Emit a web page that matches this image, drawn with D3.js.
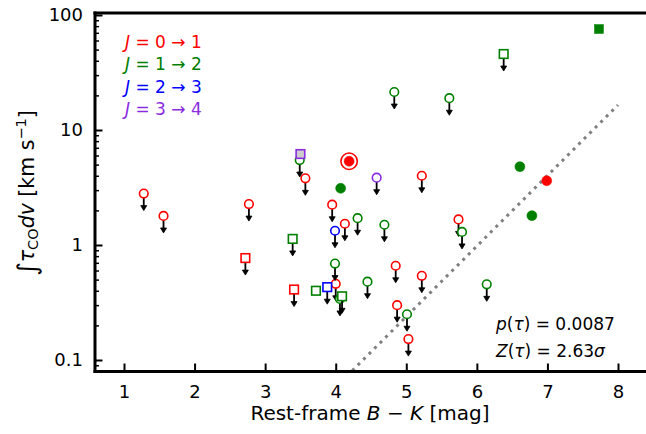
<!DOCTYPE html>
<html><head><meta charset="utf-8">
<script src="https://cdn.jsdelivr.net/npm/d3@7/dist/d3.min.js"></script>
<style>
body{margin:0;background:#fff}
svg{display:block}
text{font-family:"DejaVu Sans",sans-serif}
</style>
</head><body>
<svg id="c" width="646" height="434"></svg>
<script>
// ---------- data (Rest-frame B-K [mag], integrated tau_CO dv [km/s]) ----------
const redCircLimX = [1.28, 1.56, 2.77, 3.57, 3.95, 4.13, 4.00, 5.22, 5.74, 4.85, 5.22, 4.87, 5.03];
const redCircLimY = [2.80, 1.79, 2.27, 3.80, 2.24, 1.53, 0.46, 4.00, 1.67, 0.66, 0.54, 0.30, 0.152];
const redSqLimX = [2.72, 3.41];
const redSqLimY = [0.77, 0.41];
const redCircDetX = [6.99];
const redCircDetY = [3.62];
const redRingDetX = [4.19];
const redRingDetY = [5.35];

const greenCircLimX = [3.49, 4.31, 4.69, 3.99, 4.45, 4.06, 5.01, 5.79, 6.14, 4.83, 5.61];
const greenCircLimY = [5.48, 1.71, 1.50, 0.69, 0.48, 0.34, 0.25, 1.30, 0.455, 21.4, 18.9];
const greenSqLimX = [3.39, 4.09, 6.38];
const greenSqLimY = [1.13, 0.358, 45.8];
const greenSqOpenX = [3.72];
const greenSqOpenY = [0.40];
const greenCircDetX = [4.07, 6.61, 6.78];
const greenCircDetY = [3.11, 4.80, 1.80];
const greenSqDetX = [7.73];
const greenSqDetY = [75.5];

const blueCircLimX = [3.99];
const blueCircLimY = [1.33];
const blueSqLimX = [3.88];
const blueSqLimY = [0.43];

const purpleCircLimX = [4.58];
const purpleCircLimY = [3.85];
const purpleSqDetX = [3.50];
const purpleSqDetY = [6.18];

const fitLineX = [4.0, 8.0];
const fitLineY = [0.058, 16.5];

const xTicks = [1, 2, 3, 4, 5, 6, 7, 8];
const yTicks = [0.1, 1, 10, 100];
const yTickLabels = ["0.1", "1", "10", "100"];
const legendLabels = ["0 \u2192 1", "1 \u2192 2", "2 \u2192 3", "3 \u2192 4"];
const legendColors = ["#ff0000", "#008000", "#0000ff", "#8a2be2"];

// ---------- layout ----------
const svg = d3.select("#c");
const L = 95, R = 700, T = 13, B = 371.5;
const x = d3.scaleLinear().domain([1, 8]).range([124, 618]);
const y = d3.scaleLog().domain([0.1, 100]).range([360, 15]);

svg.append("defs").append("clipPath").attr("id", "clip")
  .append("rect").attr("x", L).attr("y", T).attr("width", R - L).attr("height", B - T);

const plot = svg.append("g").attr("clip-path", "url(#clip)");

// fit line
plot.append("path")
  .datum(fitLineX.map((d, i) => [d, fitLineY[i]]))
  .attr("d", d3.line().x(d => x(d[0])).y(d => y(d[1])))
  .attr("fill", "none").attr("stroke", "#808080").attr("stroke-width", 3)
  .attr("stroke-dasharray", "3,4.8");

const arrowFactor = Math.pow(10, 0.148);

function series(xs, ys, o) {
  const pts = xs.map((d, i) => [d, ys[i]]);
  const g = plot.append("g");
  if (o.limit) {
    pts.forEach(p => {
      const cx = x(p[0]), cy = y(p[1]), tip = y(p[1] / arrowFactor);
      g.append("line").attr("x1", cx).attr("x2", cx).attr("y1", cy).attr("y2", tip - 3)
        .attr("stroke", "#000").attr("stroke-width", 1.8);
      g.append("path").attr("d", `M${cx - 3},${tip - 5}L${cx + 3},${tip - 5}L${cx},${tip}Z`)
        .attr("fill", "#000").attr("stroke", "#000").attr("stroke-width", 0.8);
    });
  }
  pts.forEach(p => {
    const cx = x(p[0]), cy = y(p[1]);
    if (o.ring) {
      g.append("circle").attr("cx", cx).attr("cy", cy).attr("r", 8.2)
        .attr("fill", "#fff").attr("stroke", o.color).attr("stroke-width", 1.6);
    }
    if (o.shape === "circle") {
      g.append("circle").attr("cx", cx).attr("cy", cy).attr("r", o.filled ? 5 : 4.3)
        .attr("fill", o.filled ? o.color : (o.fill || "#fff"))
        .attr("stroke", o.color).attr("stroke-width", o.filled ? 0.5 : 1.6);
    } else {
      const s = o.filled ? 9 : 8.6;
      g.append("rect").attr("x", cx - s / 2).attr("y", cy - s / 2).attr("width", s).attr("height", s)
        .attr("fill", o.filled ? o.color : (o.fill || "#fff"))
        .attr("stroke", o.color).attr("stroke-width", o.filled ? 0.5 : 1.6);
    }
  });
}

const C = {red: "#ff0000", green: "#008000", blue: "#0000ff", purple: "#8a2be2"};
series(redCircLimX, redCircLimY, {color: C.red, shape: "circle", limit: true});
series(redSqLimX, redSqLimY, {color: C.red, shape: "square", limit: true});
series(greenCircLimX, greenCircLimY, {color: C.green, shape: "circle", limit: true});
series(greenSqLimX, greenSqLimY, {color: C.green, shape: "square", limit: true});
series(greenSqOpenX, greenSqOpenY, {color: C.green, shape: "square", limit: false});
series(blueCircLimX, blueCircLimY, {color: C.blue, shape: "circle", limit: true});
series(blueSqLimX, blueSqLimY, {color: C.blue, shape: "square", limit: true});
series(purpleCircLimX, purpleCircLimY, {color: C.purple, shape: "circle", limit: true});
series(purpleSqDetX, purpleSqDetY, {color: C.purple, shape: "square", fill: "#cccccc"});
series(greenCircDetX, greenCircDetY, {color: C.green, shape: "circle", filled: true});
series(greenSqDetX, greenSqDetY, {color: C.green, shape: "square", filled: true});
series(redCircDetX, redCircDetY, {color: C.red, shape: "circle", filled: true});
series(redRingDetX, redRingDetY, {color: C.red, shape: "circle", filled: true, ring: true});

// ---------- axes ----------
const xAxis = svg.append("g").attr("transform", `translate(0,${B})`)
  .call(d3.axisBottom(x).tickValues(xTicks).tickFormat(d3.format("d")).tickSize(-8).tickPadding(13.5));
const yMinor = [];
[0.01, 0.1, 1, 10].forEach(dec => { for (let k = 2; k <= 9; k++) yMinor.push(dec * k); });
const yMinorIn = yMinor.filter(v => y(v) <= B && y(v) >= T);
const yAxisMinor = svg.append("g").attr("transform", `translate(${L},0)`)
  .call(d3.axisLeft(y).tickValues(yMinorIn).tickFormat("").tickSize(-4));
const yAxis = svg.append("g").attr("transform", `translate(${L},0)`)
  .call(d3.axisLeft(y).tickValues(yTicks).tickFormat((d, i) => yTickLabels[i]).tickSize(-7.5).tickPadding(12));

[xAxis, yAxis, yAxisMinor].forEach(a => {
  a.select(".domain").remove();
  a.selectAll(".tick line").attr("stroke", "#000").attr("stroke-width", 2);
  a.selectAll("text").attr("font-size", 18).attr("fill", "#000")
    .attr("font-family", "DejaVu Sans, sans-serif");
});
yAxisMinor.selectAll(".tick line").attr("stroke-width", 1.5);

// spines
const sp = svg.append("g").attr("stroke", "#000").attr("stroke-width", 3).attr("stroke-linecap", "square");
sp.append("line").attr("x1", L).attr("x2", L).attr("y1", T).attr("y2", B);
sp.append("line").attr("x1", L).attr("x2", R).attr("y1", B).attr("y2", B);
sp.append("line").attr("x1", L).attr("x2", R).attr("y1", T).attr("y2", T);

// axis labels
const xl = svg.append("text").attr("x", 370).attr("y", 420).attr("text-anchor", "middle")
  .attr("font-size", 20).attr("fill", "#000");
xl.append("tspan").text("Rest-frame ");
xl.append("tspan").attr("font-style", "italic").text("B");
xl.append("tspan").text(" \u2212 ");
xl.append("tspan").attr("font-style", "italic").text("K");
xl.append("tspan").text(" [mag]");

const yl = svg.append("text").attr("transform", "translate(34,193) rotate(-90)")
  .attr("text-anchor", "middle").attr("font-size", 20.5).attr("fill", "#000");
yl.append("tspan").attr("font-size", 26).attr("dy", 2).text("\u222B");
yl.append("tspan").attr("font-style", "italic").attr("dy", -2).text("\u03C4");
yl.append("tspan").attr("font-size", 14.5).attr("dy", 4).text("CO");
yl.append("tspan").attr("font-style", "italic").attr("dy", -4).text("dv");
yl.append("tspan").text(" [km s");
yl.append("tspan").attr("font-size", 14.5).attr("dy", -8.5).text("\u22121");
yl.append("tspan").attr("dy", 8.5).text("]");

// legend
legendLabels.forEach((t, i) => {
  const tx = svg.append("text").attr("x", 125).attr("y", 48 + i * 22.3)
    .attr("font-size", 17).attr("fill", legendColors[i]);
  tx.append("tspan").attr("font-style", "italic").text("J");
  tx.append("tspan").text(" = " + t);
});

// annotation
const a1 = svg.append("text").attr("x", 496).attr("y", 330).attr("font-size", 17).attr("fill", "#000");
a1.append("tspan").attr("font-style", "italic").text("p");
a1.append("tspan").text("(");
a1.append("tspan").attr("font-style", "italic").text("\u03C4");
a1.append("tspan").text(") = 0.0087");
const a2 = svg.append("text").attr("x", 496).attr("y", 357).attr("font-size", 17).attr("fill", "#000");
a2.append("tspan").attr("font-style", "italic").text("Z");
a2.append("tspan").text("(");
a2.append("tspan").attr("font-style", "italic").text("\u03C4");
a2.append("tspan").text(") = 2.63");
a2.append("tspan").attr("font-style", "italic").text("\u03C3");
</script>
</body></html>
